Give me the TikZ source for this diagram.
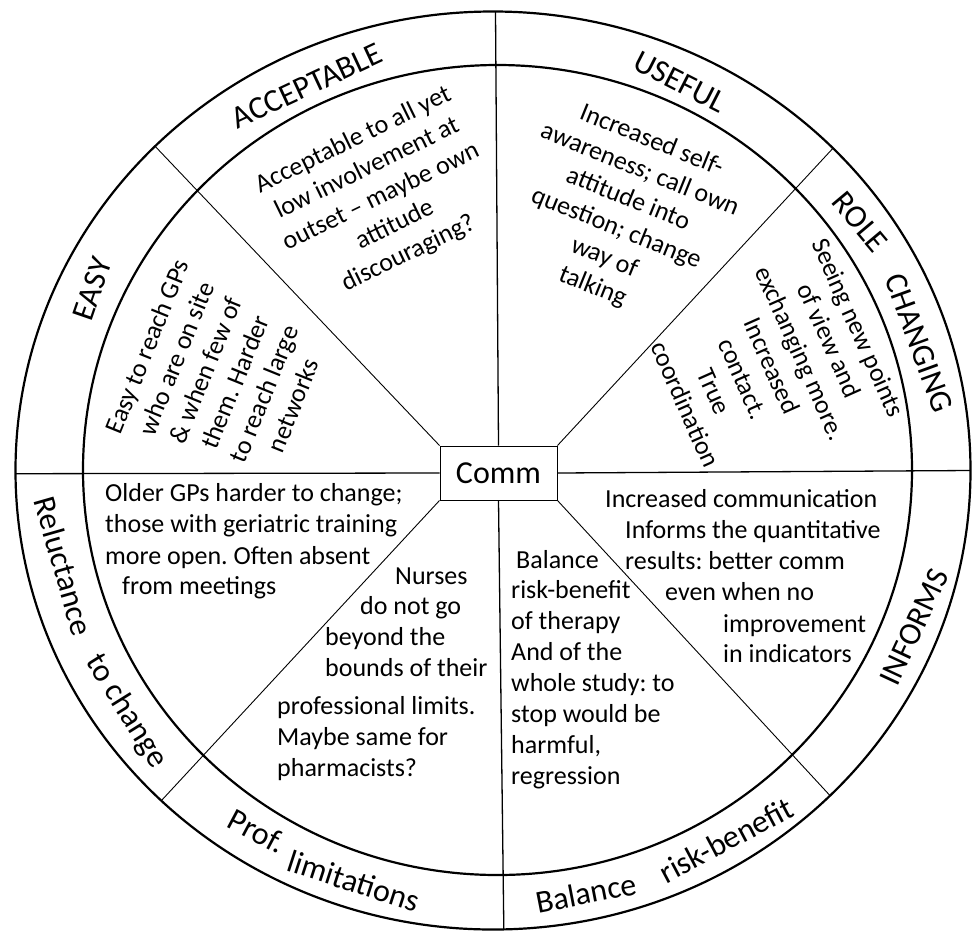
\documentclass[tikz,border=0pt]{standalone}
\usepackage{fontspec}
\setmainfont{Carlito}
\frenchspacing
\begin{document}
\begin{tikzpicture}[x=1pt,y=-1pt,
  ring/.style={font=\fontsize{32}{38}\selectfont, inner sep=0pt},
  body/.style={font=\fontsize{26}{31.5}\selectfont, inner sep=0pt},
  blk/.style={body, align=center},
  ln/.style={body, anchor=base west},
  rim/.style={line width=2.2pt},
  spoke/.style={line width=1.3pt},
  diag/.style={line width=0.9pt}]
\useasboundingbox (0,0) rectangle (973,932);
\coordinate (oc) at (493,470.5);
\coordinate (ic) at (497.5,470);
\draw[rim] (oc) ellipse [x radius=477.5, y radius=459];
\draw[rim] (ic) ellipse [x radius=414.5, y radius=405];

\node[draw, line width=1pt, minimum width=117pt, minimum height=54pt, inner sep=0pt,
      font=\fontsize{32}{38}\selectfont] (comm) at (498.5,473) {Comm};

\path (oc) ++(-89.7:477.5 and 459) coordinate (oT);
\path (oc) ++(88.7:477.5 and 459) coordinate (oB);
\path (oc) ++(179.6:477.5 and 459) coordinate (oL);
\path (oc) ++(0:477.5 and 459) coordinate (oR);
\path (oc) ++(-135.05:477.5 and 459) coordinate (oUL);
\path (oc) ++(-44.6:477.5 and 459) coordinate (oUR);
\path (oc) ++(134:477.5 and 459) coordinate (oLL);
\path (oc) ++(45.1:477.5 and 459) coordinate (oLR);

\draw[spoke] (comm.north) -- (oT);
\draw[spoke] (comm.south) -- (oB);
\draw[spoke] (comm.west) -- (oL);
\draw[spoke] (comm.east) -- (oR);
\draw[diag] (comm.north west) -- (oUL);
\draw[diag] (comm.north east) -- (oUR);
\draw[diag] (comm.south west) -- (oLL);
\draw[diag] (comm.south east) -- (oLR);

% ring labels
\node[ring, rotate=25] (acc) at (307,86) {ACCEPTABLE};
\node[ring, rotate=-27] (use) at (680,82) {USEFUL};
\node[ring, rotate=-50] (role) at (860,222) {ROLE};
\node[ring, rotate=-70] (chg) at (919,343) {CHANGING};
\node[ring, rotate=71] (easy) at (92,289) {EASY};
\node[ring, rotate=-74] (rel) at (64,566) {Reluctance};
\node[ring, rotate=-58] (toch) at (126,711) {to change};
\node[ring, rotate=-28] (prof) at (257,831) {Prof.};
\node[ring, rotate=-18] (lim) at (354,881) {limitations};
\node[ring, rotate=11] (bal) at (586,893) {Balance};
\node[ring, rotate=28] (rb) at (726,840) {risk-benefit};
\node[ring, rotate=65] (inf) at (914,627) {INFORMS};

% rotated sector texts
\node[blk, rotate=26] (tacc) at (381,197) {Acceptable to all yet\\low involvement at\\outset – maybe own\\attitude\\discouraging?};
\node[blk, rotate=-22] (tuse) at (622,214) {Increased self-\\awareness; call own\\attitude into\\question; change\\way of\\talking};
\node[blk, rotate=-66] (trole) at (772,366) {Seeing new points\\of view and\\exchanging more.\\Increased\\contact.\\True\\coordination};
\node[blk, rotate=68] (teasy) at (220,376) {Easy to reach GPs\\who are on site\\\& when few of\\them. Harder\\to reach large\\networks};

% horizontal sector texts
\foreach \x/\y/\t [count=\i] in {105/501/{Older GPs harder to change;},
  105/532/{those with geriatric training},
  105/564/{more open. Often absent},
  122/594/{from meetings}}
  \node[ln] (rc\i) at (\x,\y) {\t};

\foreach \x/\y/\t [count=\i] in {395/584/{Nurses},
  360/614/{do not go},
  325/645/{beyond the},
  325/676/{bounds of their},
  277/714/{professional limits.},
  277/745/{Maybe same for},
  277/776/{pharmacists?}}
  \node[ln] (pl\i) at (\x,\y) {\t};

\foreach \x/\y/\t [count=\i] in {516/568/{Balance},
  511/598/{risk-benefit},
  511/629/{of therapy},
  511/660/{And of the},
  511/691/{whole study: to},
  511/722/{stop would be},
  511/753/{harmful,},
  511/784/{regression}}
  \node[ln] (br\i) at (\x,\y) {\t};

\foreach \x/\y/\t [count=\i] in {605/507/{Increased communication},
  625/538/{Informs the quantitative},
  625/569/{results: better comm},
  665/600/{even when no},
  723/632/{improvement},
  723/662/{in indicators}}
  \node[ln] (in\i) at (\x,\y) {\t};
\end{tikzpicture}
\end{document}
